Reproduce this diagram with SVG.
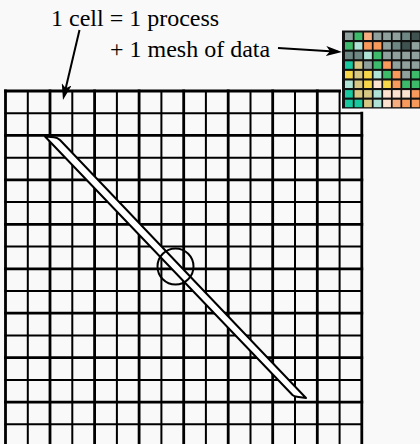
<svg xmlns="http://www.w3.org/2000/svg" width="420" height="444" viewBox="0 0 420 444">
<style>
.bg{fill:#f9f9f9}
.thick{stroke:#000;stroke-width:2.8;fill:none;stroke-linecap:square}
.thin{stroke:#000;stroke-width:2;fill:none;stroke-linecap:square}
.lbl{font-family:"Liberation Serif","Times New Roman",serif;font-size:24px;fill:#000}
.arrow{stroke:#000;stroke-width:2;fill:none}
.G{fill:#8fa09d}.Gd{fill:#6e8783}.D{fill:#3f524f}.Gr{fill:#3dbb6b}.O{fill:#f79a5c}.Ol{fill:#f6ae80}
.C{fill:#aee3d6}.T{fill:#18c9a0}.K{fill:#d6c783}.Y{fill:#f7d64a}.P{fill:#fde3cf}
</style>
<defs>
<marker id="ah" viewBox="0 0 16 10" refX="12" refY="5" markerWidth="16" markerHeight="10" markerUnits="userSpaceOnUse" orient="auto">
<path d="M0,0 L16,5 L0,10 L4,5 Z" fill="#000"/>
</marker>
</defs>
<rect class="bg" x="0" y="0" width="420" height="444"/>
<g id="grid">
<path class="thick" d="M5.5,91V444M50,91V444M94.6,91V444M139.1,91V444M183.7,91V444M228.2,91V444M272.7,91V444M317.3,91V444M361.8,113.2V444"/>
<path class="thin" d="M27.8,91V444M72.3,91V444M116.9,91V444M161.4,91V444M205.9,91V444M250.5,91V444M295,91V444M339.6,91V444"/>
<path class="thick" d="M5.5,91H339.6M5.5,135.4H361.8M5.5,179.9H361.8M5.5,224.3H361.8M5.5,268.8H361.8M5.5,313.2H361.8M5.5,357.6H361.8M5.5,402.1H361.8"/>
<path class="thin" d="M5.5,113.2H361.8M5.5,157.7H361.8M5.5,202.1H361.8M5.5,246.5H361.8M5.5,291H361.8M5.5,335.4H361.8M5.5,379.9H361.8M5.5,424.3H361.8"/>
</g>
<g id="band">
<path d="M45,136.5 L54,137.2 Q57.5,137.6 60,140 L306,398 L297,396.8 Q294,396.4 292.5,395 Z" fill="#fff" stroke="#000" stroke-width="2" stroke-linejoin="round"/>
</g>
<g id="focus">
<circle cx="175.5" cy="266.5" r="18" fill="none" stroke="#000" stroke-width="2"/>
</g>
<g id="mesh">
<rect x="342" y="30.5" width="80" height="78" fill="#111"/>
<g transform="translate(345,32.5)">
<rect class="G" x="0" y="0" width="7.8" height="7.5"/><rect class="Gr" x="9.53" y="0" width="7.8" height="7.5"/><rect class="Ol" x="19.06" y="0" width="7.8" height="7.5"/><rect class="G" x="28.59" y="0" width="7.8" height="7.5"/><rect class="G" x="38.12" y="0" width="7.8" height="7.5"/><rect class="G" x="47.65" y="0" width="7.8" height="7.5"/><rect class="Gd" x="57.18" y="0" width="7.8" height="7.5"/><rect class="D" x="66.71" y="0" width="7.8" height="7.5"/>
<rect class="Gr" x="0" y="9.6" width="7.8" height="7.5"/><rect class="C" x="9.53" y="9.6" width="7.8" height="7.5"/><rect class="O" x="19.06" y="9.6" width="7.8" height="7.5"/><rect class="O" x="28.59" y="9.6" width="7.8" height="7.5"/><rect class="G" x="38.12" y="9.6" width="7.8" height="7.5"/><rect class="Gd" x="47.65" y="9.6" width="7.8" height="7.5"/><rect class="D" x="57.18" y="9.6" width="7.8" height="7.5"/><rect class="G" x="66.71" y="9.6" width="7.8" height="7.5"/>
<rect class="Gd" x="0" y="19.2" width="7.8" height="7.5"/><rect class="Gd" x="9.53" y="19.2" width="7.8" height="7.5"/><rect class="C" x="19.06" y="19.2" width="7.8" height="7.5"/><rect class="Gr" x="28.59" y="19.2" width="7.8" height="7.5"/><rect class="G" x="38.12" y="19.2" width="7.8" height="7.5"/><rect class="G" x="47.65" y="19.2" width="7.8" height="7.5"/><rect class="G" x="57.18" y="19.2" width="7.8" height="7.5"/><rect class="G" x="66.71" y="19.2" width="7.8" height="7.5"/>
<rect class="T" x="0" y="28.8" width="7.8" height="7.5"/><rect class="K" x="9.53" y="28.8" width="7.8" height="7.5"/><rect class="G" x="19.06" y="28.8" width="7.8" height="7.5"/><rect class="Gr" x="28.59" y="28.8" width="7.8" height="7.5"/><rect class="O" x="38.12" y="28.8" width="7.8" height="7.5"/><rect class="G" x="47.65" y="28.8" width="7.8" height="7.5"/><rect class="G" x="57.18" y="28.8" width="7.8" height="7.5"/><rect class="G" x="66.71" y="28.8" width="7.8" height="7.5"/>
<rect class="Y" x="0" y="38.4" width="7.8" height="7.5"/><rect class="K" x="9.53" y="38.4" width="7.8" height="7.5"/><rect class="Y" x="19.06" y="38.4" width="7.8" height="7.5"/><rect class="C" x="28.59" y="38.4" width="7.8" height="7.5"/><rect class="Gr" x="38.12" y="38.4" width="7.8" height="7.5"/><rect class="O" x="47.65" y="38.4" width="7.8" height="7.5"/><rect class="G" x="57.18" y="38.4" width="7.8" height="7.5"/><rect class="Gr" x="66.71" y="38.4" width="7.8" height="7.5"/>
<rect class="C" x="0" y="48" width="7.8" height="7.5"/><rect class="K" x="9.53" y="48" width="7.8" height="7.5"/><rect class="Y" x="19.06" y="48" width="7.8" height="7.5"/><rect class="P" x="28.59" y="48" width="7.8" height="7.5"/><rect class="Y" x="38.12" y="48" width="7.8" height="7.5"/><rect class="O" x="47.65" y="48" width="7.8" height="7.5"/><rect class="Gr" x="57.18" y="48" width="7.8" height="7.5"/><rect class="Gr" x="66.71" y="48" width="7.8" height="7.5"/>
<rect class="T" x="0" y="57.6" width="7.8" height="7.5"/><rect class="K" x="9.53" y="57.6" width="7.8" height="7.5"/><rect class="K" x="19.06" y="57.6" width="7.8" height="7.5"/><rect class="C" x="28.59" y="57.6" width="7.8" height="7.5"/><rect class="P" x="38.12" y="57.6" width="7.8" height="7.5"/><rect class="P" x="47.65" y="57.6" width="7.8" height="7.5"/><rect class="P" x="57.18" y="57.6" width="7.8" height="7.5"/><rect class="O" x="66.71" y="57.6" width="7.8" height="7.5"/>
<rect class="T" x="0" y="67.2" width="7.8" height="7.5"/><rect class="T" x="9.53" y="67.2" width="7.8" height="7.5"/><rect class="K" x="19.06" y="67.2" width="7.8" height="7.5"/><rect class="C" x="28.59" y="67.2" width="7.8" height="7.5"/><rect class="P" x="38.12" y="67.2" width="7.8" height="7.5"/><rect class="Ol" x="47.65" y="67.2" width="7.8" height="7.5"/><rect class="O" x="57.18" y="67.2" width="7.8" height="7.5"/><rect class="O" x="66.71" y="67.2" width="7.8" height="7.5"/>
</g>
</g>
<g id="labels">
<text class="lbl" x="51" y="26">1 cell = 1 process</text>
<text class="lbl" x="110" y="57">+ 1 mesh of data</text>
</g>
<g id="connectors">
<line class="arrow" x1="79.5" y1="30" x2="63.9" y2="96.1" marker-end="url(#ah)"/>
<line class="arrow" x1="278" y1="48" x2="338" y2="51.75" marker-end="url(#ah)"/>
</g>
</svg>
